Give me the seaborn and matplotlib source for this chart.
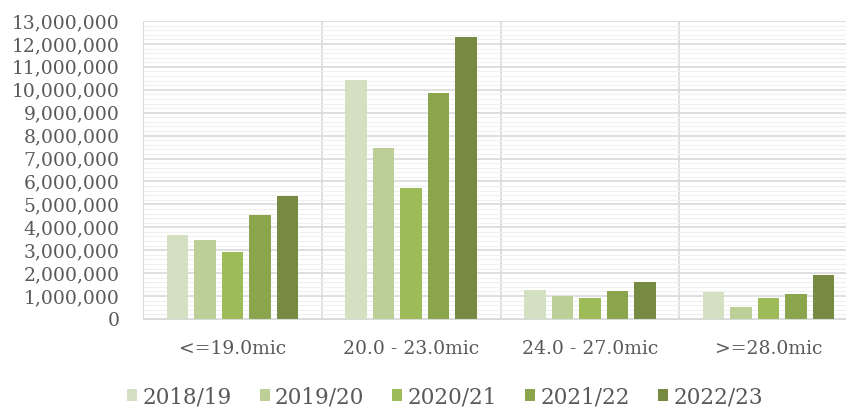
import numpy as np
import pandas as pd
import seaborn as sns
import matplotlib.pyplot as plt
from matplotlib.ticker import FuncFormatter, MultipleLocator

categories = ["<=19.0mic", "20.0 - 23.0mic", "24.0 - 27.0mic", ">=28.0mic"]
seasons = ["2018/19", "2019/20", "2020/21", "2021/22", "2022/23"]

vals_1819 = [3660000, 10430000, 1280000, 1160000]
vals_1920 = [3450000, 7460000, 990000, 510000]
vals_2021 = [2910000, 5700000, 930000, 930000]
vals_2122 = [4540000, 9850000, 1220000, 1100000]
vals_2223 = [5370000, 12300000, 1630000, 1930000]

colors = ["#D3E0C1", "#BBCF97", "#9EBB5A", "#8AA54C", "#768B41"]

# long table for seaborn
series = [vals_1819, vals_1920, vals_2021, vals_2122, vals_2223]
rows = []
for season, vals in zip(seasons, series):
    for cat, v in zip(categories, vals):
        rows.append({"category": cat, "season": season, "value": v})
df = pd.DataFrame(rows)

sns.set_style("white")
plt.rcParams["font.family"] = ["DejaVu Serif"]
text_color = "#595959"

fig = plt.figure(figsize=(8.46, 4.12), dpi=100)
# plot area runs a bit past the right edge of the figure, as in the original
ax = fig.add_axes([143 / 846, 1 - 319 / 412, (858 - 143) / 846, (319 - 21) / 412])

sns.barplot(
    data=df, x="category", y="value", hue="season",
    palette=colors, saturation=1, width=0.77, gap=0.22, ax=ax,
    edgecolor="none", linewidth=0, legend=True,
)

ax.set_ylim(0, 13000000)
ax.set_xlim(-0.5, 3.5)
ax.yaxis.set_major_locator(MultipleLocator(1000000))
ax.yaxis.set_minor_locator(MultipleLocator(200000))
ax.yaxis.set_major_formatter(FuncFormatter(lambda v, p: f"{int(v):,}"))

# gridlines: major, faint minor, and group separators
ax.set_axisbelow(True)
ax.grid(axis="y", which="major", color="#d9d9d9", linewidth=1.2)
ax.grid(axis="y", which="minor", color="#f0f0f0", linewidth=0.8)
for xs in [0.5, 1.5, 2.5]:
    ax.axvline(xs, color="#d9d9d9", linewidth=1.2, zorder=0)

for side in ["top", "right"]:
    ax.spines[side].set_visible(False)
ax.spines["left"].set_color("#d9d9d9")
ax.spines["bottom"].set_color("#d9d9d9")

ax.tick_params(axis="both", which="both", length=0, colors=text_color, labelsize=13.5)
ax.tick_params(axis="x", pad=15)
ax.tick_params(axis="y", pad=17)
ax.set_xlabel("")
ax.set_ylabel("")

handles, labels = ax.get_legend_handles_labels()
ax.legend(
    handles, labels, loc="center", bbox_to_anchor=(445 / 846, 1 - 397 / 412),
    bbox_transform=fig.transFigure, ncol=5, frameon=False,
    fontsize=15.5, labelcolor=text_color, handlelength=0.46, handleheight=0.46,
    handletextpad=0.25, columnspacing=1.3,
)

fig.savefig("out.png", dpi=100)
